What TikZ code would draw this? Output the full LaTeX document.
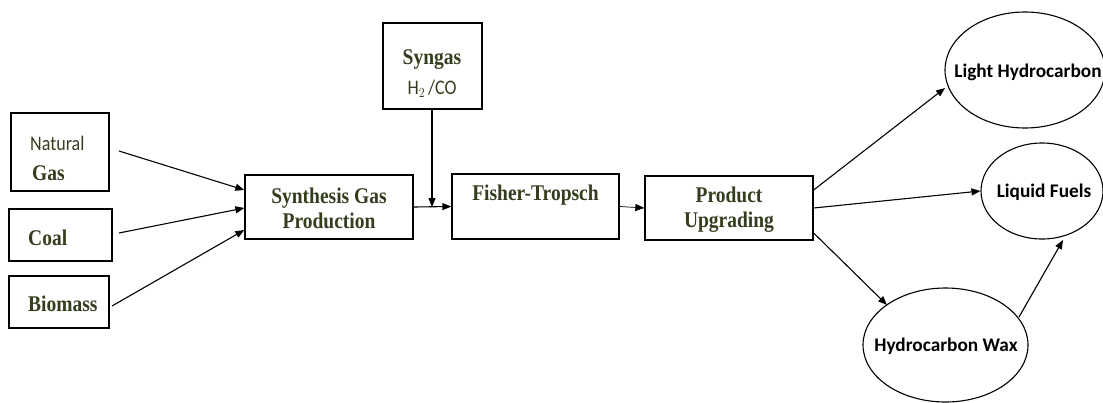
\documentclass[tikz,border=0pt]{standalone}
\usepackage{graphicx}
\usepackage{fontspec}
\setmainfont{Liberation Serif}
\newfontfamily\carl{Carlito}
\usetikzlibrary{arrows.meta,shapes.geometric}
\definecolor{olive}{RGB}{52,62,30}
\newcommand{\tallt}[1]{\scalebox{1}[1.15]{#1}}
\begin{document}
\begin{tikzpicture}[x=1pt,y=-1pt,
  box/.style={draw=black,line width=1.3pt,inner sep=0pt},
  oval/.style={draw=black,line width=1.1pt,ellipse,inner sep=0pt},
  bt/.style={font=\fontsize{19.5}{25}\selectfont\bfseries,text=olive,align=center,inner sep=0pt},
  et/.style={font=\carl\fontsize{19.3}{22}\selectfont\bfseries,text=black,inner sep=0pt},
  arr/.style={line width=1.1pt,-{Triangle[length=9pt,width=7pt]}}]
\useasboundingbox (0,0) rectangle (1103,402);
% left boxes
\node[box,minimum width=98,minimum height=78] (ng) at (60,152) {};
\node[font=\carl\fontsize{18}{20}\selectfont,text=olive,anchor=west,inner sep=0pt] (ngt1) at (30,143) {\tallt{Natural}};
\node[bt,anchor=west] (ngt2) at (32,173) {\tallt{Gas}};
\node[box,minimum width=103,minimum height=52] (coal) at (60.5,235) {};
\node[bt,anchor=west] (coalt) at (28,238) {\tallt{Coal}};
\node[box,minimum width=100,minimum height=52] (bio) at (59,302) {};
\node[bt,anchor=west] (biot) at (28,304) {\tallt{Biomass}};
% middle
\node[box,minimum width=168,minimum height=64] (sgp) at (329,207) {};
\node[bt] (sgpt) at (329,208) {\tallt{Synthesis Gas}\\\tallt{Production}};
\node[box,minimum width=99,minimum height=86] (syn) at (432.5,66) {};
\node[bt] (synt) at (432,60) {\tallt{Syngas}};
\node[font=\carl\fontsize{18}{20}\selectfont,text=olive,inner sep=0pt] (h2co) at (432,89) {\tallt{H$_2$\,/CO}};
\node[box,minimum width=167,minimum height=65] (ft) at (535.5,206.5) {};
\node[bt] (ftt) at (535.5,195) {\tallt{Fisher-Tropsch}};
\node[box,minimum width=168,minimum height=64] (pu) at (729,208) {};
\node[bt] (put) at (729,210) {\tallt{Product}\\\tallt{Upgrading}};
% ellipses
\node[oval,minimum width=160,minimum height=116] (lh) at (1025,70) {};
\node[et] (lht) at (1028,72) {Light Hydrocarbon};
\node[oval,minimum width=122,minimum height=96] (lf) at (1042,191) {};
\node[et] (lft) at (1044,192) {Liquid Fuels};
\node[oval,minimum width=165,minimum height=114] (hw) at (945.5,345) {};
\node[et] (hwt) at (946,346) {Hydrocarbon Wax};
% connector points
\coordinate (c1) at (119,151);
\coordinate (c2) at (119,233);
\coordinate (c3) at (112,306);
\coordinate (j) at (432,207);
\draw[arr] (c1) -- (sgp.west |- 0,190);
\draw[arr] (c2) -- (sgp.west |- 0,208);
\draw[arr] (c3) -- (sgp.west |- 0,230);
\draw[arr] (sgp.east) -- (ft.west);
\draw[arr] (syn.south -| j) -- (j);
\draw[line width=0.7pt,-{Triangle[length=9pt,width=7pt]}] (ft.east) -- (pu.west);
\draw[arr] (pu.east |- 0,190) -- (945,88);
\draw[arr] (pu.east |- 0,208) -- (lf.west);
\draw[arr] (pu.east |- 0,233) -- (887,305);
\draw[arr] (1019,317) -- (1063,240);
\end{tikzpicture}
\end{document}
